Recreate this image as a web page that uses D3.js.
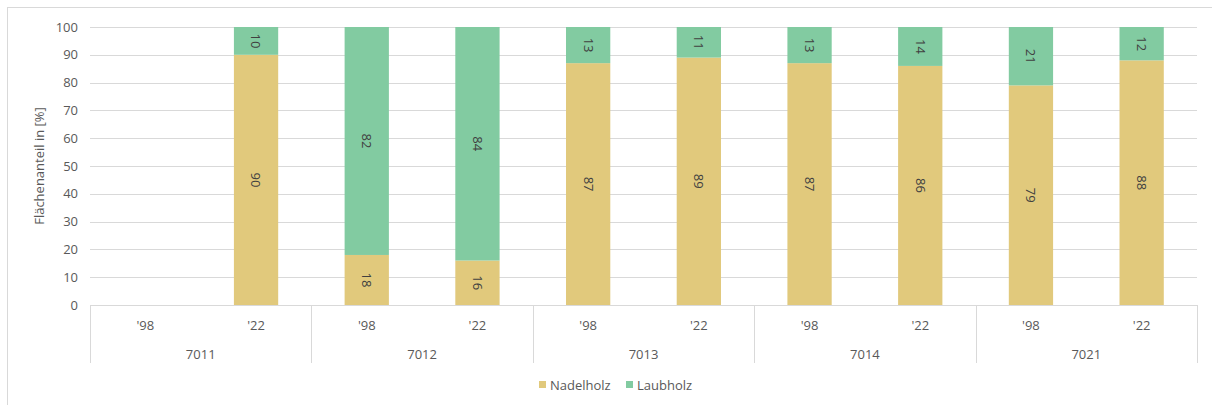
<!DOCTYPE html>
<html>
<head>
<meta charset="utf-8">
<script src="https://cdn.jsdelivr.net/npm/d3@7"></script>
<style>
  html, body { margin: 0; padding: 0; background: #fff; }
  svg text { font-family: "Open Sans", "Noto Sans", sans-serif; fill: #595959; }
</style>
</head>
<body>
<svg id="chart" width="1212" height="405"></svg>
<script>
// Plot units (Revier) and survey years
const groups = ["7011", "7012", "7013", "7014", "7021"];
const years = ["'98", "'22"];
// Share of area in percent, one entry per group/year pair
const nadelholz = [null, 90, 18, 16, 87, 89, 87, 86, 79, 88];
const laubholz  = [null, 10, 82, 84, 13, 11, 13, 14, 21, 12];
const yTicks = [0, 10, 20, 30, 40, 50, 60, 70, 80, 90, 100];
const seriesNames = ["Nadelholz", "Laubholz"];
const colors = ["#E1C97C", "#82CBA1"];

const svg = d3.select("#chart");
const W = 1212, H = 405;
const plotLeft = 90, plotRight = 1197, plotTop = 27, plotBottom = 305;

// Outer chart frame
svg.append("rect").attr("x", 7.5).attr("y", 7.5).attr("width", W).attr("height", H)
  .attr("fill", "none").attr("stroke", "#d9d9d9").attr("stroke-width", 1);

const slots = [];
groups.forEach(g => years.forEach(yr => slots.push(g + "|" + yr)));

const x = d3.scaleBand().domain(slots).range([plotLeft, plotRight]).paddingInner(0).paddingOuter(0);
const y = d3.scaleLinear().domain([0, 100]).range([plotBottom, plotTop]);
const barW = x.bandwidth() * 0.4;

// Horizontal gridlines
svg.append("g").selectAll("line").data(yTicks.filter(t => t > 0)).join("line")
  .attr("x1", plotLeft).attr("x2", plotRight)
  .attr("y1", d => Math.round(y(d)) + 0.5).attr("y2", d => Math.round(y(d)) + 0.5)
  .attr("stroke", "#d9d9d9").attr("stroke-width", 1);

// Y axis tick labels
const yAxis = d3.axisLeft(y).tickValues(yTicks).tickSize(0).tickPadding(12);
const yg = svg.append("g").attr("transform", `translate(${plotLeft},0)`).call(yAxis);
yg.select(".domain").remove();
yg.selectAll("text").attr("font-size", 13).style("font-family", '"Open Sans", sans-serif').attr("fill", "#595959");

// Y axis title
svg.append("text")
  .attr("transform", `translate(44,${(plotTop + plotBottom) / 2}) rotate(-90)`)
  .attr("text-anchor", "middle").attr("font-size", 13)
  .text("Flächenanteil in [%]");

// Stacked bars
const stacks = slots.map((s, i) => ({ slot: s, vals: [nadelholz[i], laubholz[i]] }));
const barG = svg.append("g");
stacks.forEach(st => {
  let base = 0;
  st.vals.forEach((v, k) => {
    if (v == null) return;
    const y0 = y(base), y1 = y(base + v);
    const cx = x(st.slot) + x.bandwidth() / 2;
    barG.append("rect")
      .attr("x", cx - barW / 2).attr("width", barW)
      .attr("y", y1).attr("height", y0 - y1)
      .attr("fill", colors[k]);
    barG.append("text")
      .attr("transform", `translate(${cx},${(y0 + y1) / 2}) rotate(90)`)
      .attr("text-anchor", "middle").attr("dy", "0.35em")
      .attr("font-size", 13).style("fill", "#404040")
      .text(v);
    base += v;
  });
});

// Category axis: baseline, separators, year and group labels
const axG = svg.append("g");
axG.append("line").attr("x1", plotLeft).attr("x2", plotRight)
  .attr("y1", plotBottom + 0.5).attr("y2", plotBottom + 0.5)
  .attr("stroke", "#d9d9d9");
const gw = (plotRight - plotLeft) / groups.length;
d3.range(groups.length + 1).forEach(i => {
  const xx = Math.round(plotLeft + i * gw) + 0.5;
  axG.append("line").attr("x1", xx).attr("x2", xx)
    .attr("y1", plotBottom).attr("y2", 363).attr("stroke", "#d9d9d9");
});
slots.forEach(s => {
  axG.append("text").attr("x", x(s) + x.bandwidth() / 2).attr("y", 330)
    .attr("text-anchor", "middle").attr("font-size", 13)
    .text(s.split("|")[1]);
});
groups.forEach((g, i) => {
  axG.append("text").attr("x", plotLeft + (i + 0.5) * gw).attr("y", 359)
    .attr("text-anchor", "middle").attr("font-size", 13)
    .text(g);
});

// Legend
const lg = svg.append("g");
const legendX = [539, 626];
seriesNames.forEach((n, i) => {
  lg.append("rect").attr("x", legendX[i]).attr("y", 381).attr("width", 7).attr("height", 7)
    .attr("fill", colors[i]);
  lg.append("text").attr("x", legendX[i] + 11).attr("y", 390)
    .attr("font-size", 13).text(n);
});
</script>
</body>
</html>
